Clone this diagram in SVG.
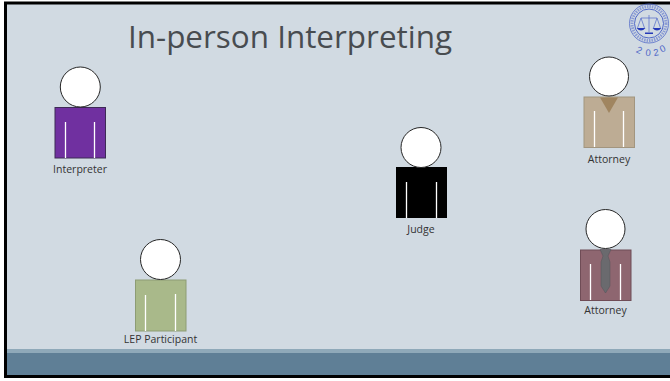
<svg xmlns="http://www.w3.org/2000/svg" width="670" height="381" viewBox="0 0 670 381">
<defs>
<style>
.head{fill:#fff;stroke:#262626;stroke-width:1}
.lap{stroke:#fff;stroke-width:1.3;fill:none}
.lbl{font-family:"Open Sans","Liberation Sans",sans-serif;font-size:10.5px;fill:#333;text-anchor:middle}
.seal{fill:none;stroke:#5068c8}
.yr{font-family:"Liberation Sans",sans-serif;font-size:9.500px;fill:#5068c8;text-anchor:middle}
</style>
</defs>
<rect width="670" height="381" fill="#fff"/>
<rect x="5.500" y="3" width="670" height="373.500" fill="#d1dae2" stroke="#000" stroke-width="3"/>
<rect x="7" y="349" width="663" height="4" fill="#8fa9b9"/>
<rect x="7" y="353" width="663" height="22" fill="#5f7f96"/>
<text x="128" y="48" font-family="'Open Sans','Liberation Sans',sans-serif" font-size="31" fill="#484c50" textLength="324" lengthAdjust="spacingAndGlyphs">In-person Interpreting</text>
<g id="seal">
<circle class="seal" cx="649" cy="23.500" r="19.500" stroke-width=".8"/>
<circle class="seal" cx="649" cy="23.500" r="17" stroke-width="3" stroke-dasharray="1.500 1" opacity=".55"/>
<circle class="seal" cx="649" cy="23.500" r="14.500" stroke-width="1"/>
<path d="M649 15V32M641 18H657M641 18l-3.500 10M641 18l3.500 10M657 18l-3.500 10M657 18l3.500 10" class="seal" stroke="#3346b8" stroke-width=".7"/>
<path d="M636.500 28h9q-4.500 5-9 0zM652.500 28h9q-4.500 5-9 0zM645 32.500h8v1.500h-8z" fill="#2438b8"/>
<text class="yr" transform="translate(638 53) rotate(25)">2</text>
<text class="yr" transform="translate(648 56) rotate(5)">0</text>
<text class="yr" transform="translate(656.500 55.500) rotate(-10)">2</text>
<text class="yr" transform="translate(664 51.500) rotate(-28)">0</text>
</g>
<g id="interpreter">
<rect x="55" y="107.500" width="50.500" height="50.500" fill="#7030a0" stroke="#3d2a55"/>
<circle class="head" cx="80.300" cy="87" r="20"/>
<path class="lap" d="M65.500 122V158M94.500 122V158"/>
<text class="lbl" x="80" y="173">Interpreter</text>
</g>
<g id="participant">
<rect x="135.500" y="280" width="50.500" height="51" fill="#a9b98a" stroke="#8d9c74"/>
<circle class="head" cx="160.500" cy="259.500" r="20"/>
<path class="lap" d="M145.500 295V331M175.500 294V331"/>
<text class="lbl" x="160.500" y="343">LEP Participant</text>
</g>
<g id="judge">
<rect x="396" y="167" width="51" height="51" fill="#000"/>
<circle class="head" cx="421" cy="147.500" r="20"/>
<path class="lap" d="M406.500 182V218M436.500 182V218"/>
<text class="lbl" x="421" y="232.500">Judge</text>
</g>
<g id="attorney-1">
<rect x="584" y="97" width="50.500" height="50.500" fill="#bdac94" stroke="#a2957f"/>
<path d="M600 97.500H618L609 113Z" fill="#a08560"/>
<circle class="head" cx="609" cy="76.500" r="19.500"/>
<path class="lap" d="M594.500 111V147M623.500 111V147"/>
<text class="lbl" x="609" y="163">Attorney</text>
</g>
<g id="attorney-2">
<rect x="580.500" y="250" width="50.500" height="50.500" fill="#8e6670" stroke="#6f4c56"/>
<path d="M600 249.500H611L608 256L610 262V286L605.500 293L601 286V262L603 256Z" fill="#6a6a6e" stroke="#55555a" stroke-width=".5"/>
<circle class="head" cx="605.500" cy="229" r="19.500"/>
<path class="lap" d="M590.500 264V300M620.500 264V300"/>
<text class="lbl" x="605.500" y="314">Attorney</text>
</g>
</svg>
